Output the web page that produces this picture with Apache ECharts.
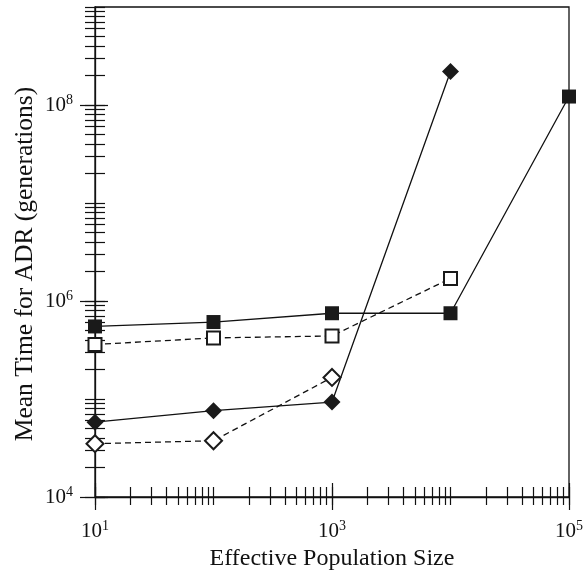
<!DOCTYPE html>
<html>
<head>
<meta charset="utf-8">
<script src="https://cdn.jsdelivr.net/npm/echarts@6/dist/echarts.min.js"></script>
<style>
  html, body { margin: 0; padding: 0; background: #fff; }
  #chart { width: 586px; height: 576px; }
</style>
</head>
<body>
<div id="chart"></div>
<script>
// effective population size (x) and mean time for ADR in generations (y)
var popSizes = [10, 100, 1000, 10000, 100000];
var filledSquare = [5.5e5, 6.1e5, 7.5e5, 7.5e5, 1.22e8];
var filledDiamond = [5.8e4, 7.6e4, 9.3e4, 2.2e8];
var openSquare = [3.6e5, 4.2e5, 4.4e5, 1.7e6];
var openDiamond = [3.5e4, 3.75e4, 1.66e5];

var xLabels = [10, 1000, 100000];
var yLabels = [1e4, 1e6, 1e8];
var xMajor = [10, 1000, 100000];
var yMajor = [1e4, 1e6, 1e8];

// minor ticks at 1..9 x 10^d
function logTicks(from, to) {
  var out = [];
  for (var d = from; d < to; d++) {
    for (var k = 1; k <= 9; k++) out.push(k * Math.pow(10, d));
  }
  out.push(Math.pow(10, to));
  return out;
}
var xMinor = logTicks(1, 5);
var yMinor = logTicks(4, 9);

function pairs(ys) {
  return ys.map(function (v, i) { return [popSizes[i], v]; });
}

var FONT = "'Liberation Serif', 'DejaVu Serif', serif";
var richLabel = {
  b: { fontSize: 21, fontFamily: FONT, color: '#111' },
  s: { fontSize: 14, fontFamily: FONT, color: '#111', padding: [0, 0, 10, 0] }
};
function supFmt(v) {
  return '{b|10}{s|' + Math.round(Math.log10(v)) + '}';
}

function axisCopy(dim, vals, inside, len, main) {
  var a = {
    type: 'log', logBase: 10,
    min: dim === 'x' ? 10 : 1e4,
    max: dim === 'x' ? 1e5 : 1e9,
    position: dim === 'x' ? 'bottom' : 'left',
    splitLine: { show: false },
    axisLine: { show: !!main, lineStyle: { color: '#111', width: 1.3 } },
    axisTick: {
      show: true, inside: inside, length: len, customValues: vals,
      lineStyle: { color: '#111', width: 1.2 }
    },
    axisLabel: { show: false }
  };
  if (main) {
    a.axisLabel = {
      show: true, customValues: dim === 'x' ? xLabels : yLabels,
      formatter: supFmt, rich: richLabel, margin: 22
    };
    a.nameLocation = 'middle';
    if (dim === 'x') {
      a.name = 'Effective Population Size';
      a.nameGap = 46;
      a.nameTextStyle = { fontSize: 24, fontFamily: FONT, color: '#111' };
    } else {
      a.name = 'Mean Time for ADR (generations)';
      a.nameGap = 57;
      a.nameMoveOverlap = false;
      a.nameTextStyle = { fontSize: 25.5, fontFamily: FONT, color: '#111', padding: [0, 24, 0, 0] };
    }
  }
  return a;
}

var solid = { color: '#111', width: 1.3, type: 'solid' };
var dashed = { color: '#111', width: 1.3, type: [6, 4] };

var option = {
  animation: false,
  backgroundColor: '#fff',
  grid: {
    left: 95, right: 16, top: 7, bottom: 79,
    show: true, borderColor: '#111', borderWidth: 1.3, backgroundColor: 'transparent'
  },
  xAxis: [
    axisCopy('x', xMinor, true, 10, true),
    axisCopy('x', xMinor, false, 8),
    axisCopy('x', xMajor, true, 14),
    axisCopy('x', xMajor, false, 13)
  ],
  yAxis: [
    axisCopy('y', yMinor, true, 10, true),
    axisCopy('y', yMinor, false, 10),
    axisCopy('y', yMajor, true, 13),
    axisCopy('y', yMajor, false, 15)
  ],
  series: [
    {
      type: 'line', data: pairs(filledSquare), symbol: 'rect', symbolSize: 14,
      lineStyle: solid, itemStyle: { color: '#1a1a1a' }
    },
    {
      type: 'line', data: pairs(filledDiamond), symbol: 'diamond', symbolSize: 17,
      lineStyle: solid, itemStyle: { color: '#1a1a1a' }
    },
    {
      type: 'line', data: pairs(openSquare), symbol: 'rect', symbolSize: 13,
      lineStyle: dashed, itemStyle: { color: '#fff', borderColor: '#1a1a1a', borderWidth: 2 }
    },
    {
      type: 'line', data: pairs(openDiamond), symbol: 'diamond', symbolSize: 17,
      lineStyle: dashed, itemStyle: { color: '#fff', borderColor: '#1a1a1a', borderWidth: 2 }
    }
  ]
};

var chart = echarts.init(document.getElementById('chart'));
chart.setOption(option);
</script>
</body>
</html>
